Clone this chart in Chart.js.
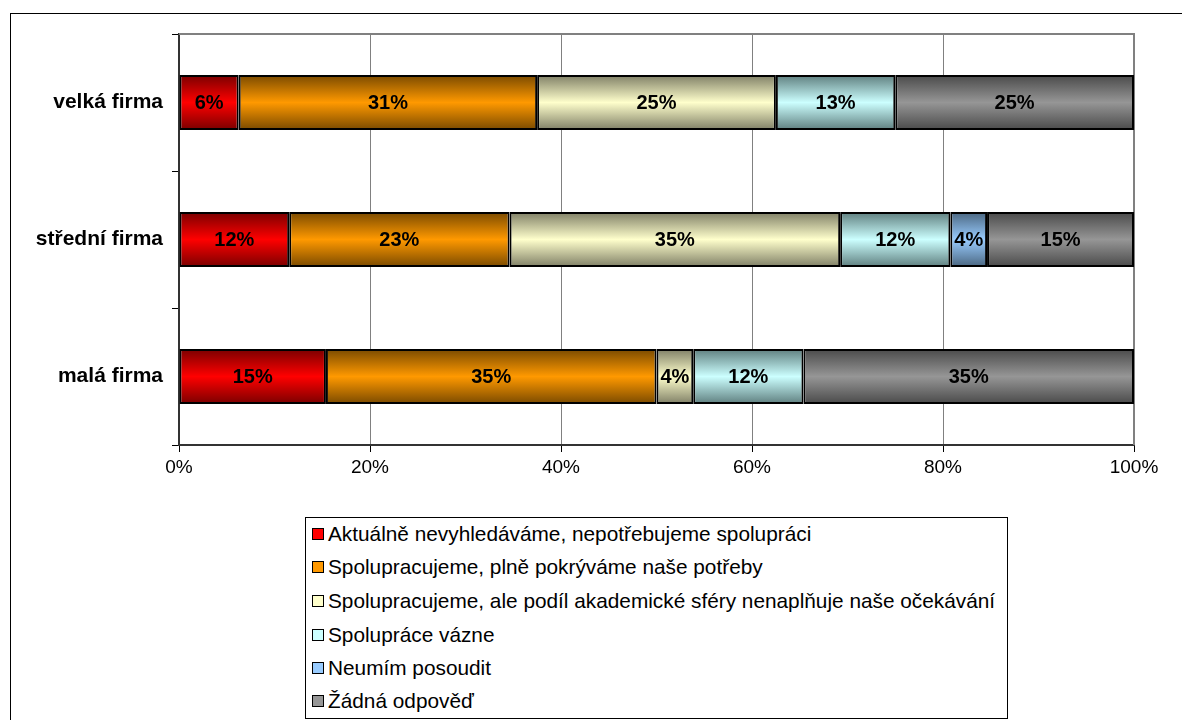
<!DOCTYPE html>
<html>
<head>
<meta charset="utf-8">
<script src="https://cdn.jsdelivr.net/npm/chart.js@4"></script>
<style>
  html, body { margin: 0; padding: 0; background: #fff; }
  #wrap { position: relative; width: 1182px; height: 720px; overflow: hidden; font-family: "Liberation Sans", Arial, sans-serif; }
  #frame { position: absolute; left: 10px; top: 13px; width: 1200px; height: 800px; border: 1px solid #000; box-sizing: border-box; }
  #c { position: absolute; left: 0; top: 0; }
  #legend { position: absolute; left: 305px; top: 517px; width: 703px; height: 202px; border: 1px solid #000; box-sizing: border-box; background: #fff; }
  .li { position: absolute; left: 6px; height: 24px; display: flex; align-items: center; font-size: 20.8px; color: #000; white-space: nowrap; }
  .mk { width: 10px; height: 10px; border: 1.5px solid #000; margin-right: 4px; flex: none; }
</style>
</head>
<body>
<div id="wrap">
  <div id="frame"></div>
  <canvas id="c" width="1182" height="500"></canvas>
  <div id="legend"></div>
</div>
<script>
const categories = ['velká firma', 'střední firma', 'malá firma'];
const seriesNames = [
  'Aktuálně nevyhledáváme, nepotřebujeme spolupráci',
  'Spolupracujeme, plně pokrýváme naše potřeby',
  'Spolupracujeme, ale podíl akademické sféry nenaplňuje naše očekávání',
  'Spolupráce vázne',
  'Neumím posoudit',
  'Žádná odpověď'
];
// respondent counts per category (shown as share of the category total)
const nevyhledavame = [1, 3, 4];
const plnePokryvame = [5, 6, 9];
const nenaplnuje = [4, 9, 1];
const vazne = [2, 3, 3];
const neumim = [null, 1, null];
const zadna = [4, 4, 9];
const xTicks = [0, 20, 40, 60, 80, 100];

const lightColors = ['#FF0000', '#FF9900', '#FFFFCC', '#CCFFFF', '#99CCFF', '#969696'];
const darkColors = ['#7a0000', '#7a4a00', '#7f7f66', '#5f7f7f', '#4a6680', '#4a4a4a'];
const legendColors = ['#FF0000', '#FF9900', '#FFFFCC', '#CCFFFF', '#99CCFF', '#969696'];

const raw = [nevyhledavame, plnePokryvame, nenaplnuje, vazne, neumim, zadna];
const totals = categories.map((_, i) => raw.reduce((s, arr) => s + (arr[i] || 0), 0));

function gradFor(si) {
  return function (c) {
    const chart = c.chart;
    const ys = chart.scales && chart.scales.y;
    if (!ys || c.dataIndex === undefined || !chart.chartArea) return lightColors[si];
    const yc = ys.getPixelForValue(c.dataIndex);
    const step = Math.abs(ys.getPixelForValue(1) - ys.getPixelForValue(0));
    const h = step * 0.4 / 2;
    const g = chart.ctx.createLinearGradient(0, yc - h, 0, yc + h);
    g.addColorStop(0, darkColors[si]);
    g.addColorStop(0.5, lightColors[si]);
    g.addColorStop(1, darkColors[si]);
    return g;
  };
}

const datasets = raw.map((arr, si) => ({
  label: seriesNames[si],
  data: arr.map((v, i) => v == null ? null : v / totals[i] * 100),
  backgroundColor: gradFor(si),
  borderColor: '#000',
  borderWidth: 2,
  borderSkipped: false,
  categoryPercentage: 1,
  barPercentage: 0.4
}));

const plotFrame = {
  id: 'plotFrame',
  beforeDatasetsDraw(chart) {
    const { ctx, chartArea: a } = chart;
    ctx.save();
    ctx.strokeStyle = '#808080';
    ctx.lineWidth = 2;
    ctx.beginPath();
    ctx.moveTo(a.left, a.top);
    ctx.lineTo(a.right, a.top);
    ctx.lineTo(a.right, a.bottom);
    ctx.stroke();
    ctx.restore();
  }
};

const valueLabels = {
  id: 'valueLabels',
  afterDatasetsDraw(chart) {
    const ctx = chart.ctx;
    ctx.save();
    ctx.font = 'bold 20px "Liberation Sans", Arial, sans-serif';
    ctx.fillStyle = '#000';
    ctx.textAlign = 'center';
    ctx.textBaseline = 'middle';
    chart.data.datasets.forEach((ds, di) => {
      const meta = chart.getDatasetMeta(di);
      meta.data.forEach((el, i) => {
        const v = ds.data[i];
        if (v == null) return;
        const x = (el.x + el.base) / 2;
        ctx.fillText(Math.round(v) + '%', x, el.y + 1);
      });
    });
    ctx.restore();
  }
};

const chart = new Chart(document.getElementById('c'), {
  type: 'bar',
  data: { labels: categories, datasets },
  options: {
    indexAxis: 'y',
    responsive: false,
    animation: false,
    devicePixelRatio: 1,
    layout: { padding: { left: 0, right: 48, top: 34, bottom: 0 } },
    plugins: { legend: { display: false }, tooltip: { enabled: false } },
    scales: {
      x: {
        stacked: true,
        min: 0, max: 100,
        afterBuildTicks(s) { s.ticks = xTicks.map(v => ({ value: v })); },
        afterFit(s) { s.height = 55; },
        ticks: {
          callback: v => v + '%',
          color: '#000',
          font: { size: 19, family: '"Liberation Sans", Arial, sans-serif' },
          padding: 4,
          maxRotation: 0
        },
        grid: { color: '#808080', lineWidth: 1, drawTicks: true, tickLength: 7, tickColor: '#000' },
        border: { display: true, color: '#333', width: 2 }
      },
      y: {
        stacked: true,
        afterFit(s) { s.width = 179; },
        ticks: {
          color: '#000',
          font: { size: 21, weight: 'bold', family: '"Liberation Sans", Arial, sans-serif' },
          padding: 9
        },
        grid: { offset: true, drawOnChartArea: false, drawTicks: true, tickLength: 7, color: '#000' },
        border: { display: true, color: '#333', width: 2 }
      }
    }
  },
  plugins: [plotFrame, valueLabels]
});

// HTML legend built from the chart datasets
const legend = document.getElementById('legend');
const rowTops = [4, 37, 71, 105, 138, 171];
chart.data.datasets.forEach((ds, i) => {
  const row = document.createElement('div');
  row.className = 'li';
  row.style.top = rowTops[i] + 'px';
  const mk = document.createElement('span');
  mk.className = 'mk';
  mk.style.background = legendColors[i];
  const tx = document.createElement('span');
  tx.textContent = ds.label;
  row.appendChild(mk);
  row.appendChild(tx);
  legend.appendChild(row);
});
</script>
</body>
</html>
